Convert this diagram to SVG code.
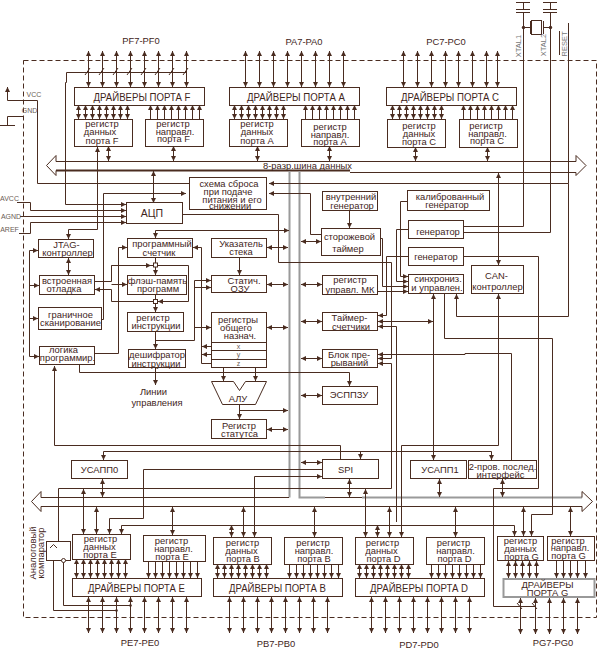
<svg xmlns="http://www.w3.org/2000/svg" xmlns:xlink="http://www.w3.org/1999/xlink" width="599" height="650" viewBox="0 0 599 650">
<style>
svg{background:#fff}
text{font-family:"Liberation Sans",Arial,sans-serif;font-size:9.4px;fill:#3f251b;text-anchor:middle}
.big{font-size:10.5px}
.dr{font-size:10px}
.sm{font-size:7px;fill:#6b5c55}
.g{font-size:7.5px;fill:#777}
.b,.bg{fill:#fff;stroke:#4a2c20;stroke-width:1}
.bg{stroke:#999;stroke-width:2}
.l,.a,.s,.d{fill:none;stroke:#4a2c20;stroke-width:1}
.a{marker-end:url(#h)}
.s{marker-start:url(#h)}
.d{marker-start:url(#h);marker-end:url(#h)}
.gr{fill:none;stroke:#9a9a9a;stroke-width:2}
.fr{fill:none;stroke:#4a2c20;stroke-width:1;stroke-dasharray:5 3}
</style>
<defs>
<marker id="h" markerUnits="userSpaceOnUse" markerWidth="6" markerHeight="6" refX="5" refY="2.5" orient="auto-start-reverse"><path d="M0 0L5 2.5L0 5z" fill="#4a2c20"/></marker>
<g id="t14"><path class="d" d="M0 0V36"/><path class="d" d="M14 0V36"/><path class="d" d="M28 0V36"/><path class="d" d="M42 0V36"/><path class="d" d="M56 0V36"/><path class="d" d="M70 0V36"/><path class="d" d="M84 0V36"/><path class="d" d="M98 0V36"/></g>
<g id="d14"><path class="d" d="M0 0V14"/><path class="d" d="M7 0V14"/><path class="d" d="M14 0V14"/><path class="d" d="M21 0V14"/><path class="d" d="M28 0V14"/><path class="d" d="M35 0V14"/><path class="d" d="M42 0V14"/><path class="d" d="M49 0V14"/></g>
<g id="u14"><path class="s" d="M0 0V14"/><path class="s" d="M7 0V14"/><path class="s" d="M14 0V14"/><path class="s" d="M21 0V14"/><path class="s" d="M28 0V14"/><path class="s" d="M35 0V14"/><path class="s" d="M42 0V14"/><path class="s" d="M49 0V14"/></g>
<g id="n14"><path class="a" d="M0 0V14"/><path class="a" d="M7 0V14"/><path class="a" d="M14 0V14"/><path class="a" d="M21 0V14"/><path class="a" d="M28 0V14"/><path class="a" d="M35 0V14"/><path class="a" d="M42 0V14"/><path class="a" d="M49 0V14"/></g>
<g id="e19"><path class="d" d="M0 0V19"/><path class="d" d="M7 0V19"/><path class="d" d="M14 0V19"/><path class="d" d="M21 0V19"/><path class="d" d="M28 0V19"/><path class="d" d="M35 0V19"/><path class="d" d="M42 0V19"/><path class="d" d="M49 0V19"/></g>
<g id="f17"><path class="a" d="M0 0V17"/><path class="a" d="M7 0V17"/><path class="a" d="M14 0V17"/><path class="a" d="M21 0V17"/><path class="a" d="M28 0V17"/><path class="a" d="M35 0V17"/><path class="a" d="M42 0V17"/><path class="a" d="M49 0V17"/></g>
</defs>
<rect width="599" height="650" fill="#fff"/>
<path class="fr" d="M23.5 60.5H596.5V617.5H23.5Z"/>
<g id="connectors">
<use xlink:href="#t14" href="#t14" x="88.5" y="51"/>
<use xlink:href="#t14" href="#t14" x="245.5" y="51"/>
<path class="d" d="M403.5 51V87"/><path class="d" d="M417.5 51V87"/><path class="d" d="M431.5 51V87"/><path class="d" d="M445.5 51V87"/><path class="d" d="M458.5 51V87"/><path class="d" d="M472.5 51V87"/><path class="d" d="M486.5 51V87"/><path class="d" d="M497.5 51V87"/>
<use xlink:href="#d14" href="#d14" x="78.5" y="105"/>
<use xlink:href="#u14" href="#u14" x="150.5" y="105"/>
<use xlink:href="#d14" href="#d14" x="234.5" y="105"/>
<use xlink:href="#u14" href="#u14" x="305.5" y="105"/>
<use xlink:href="#d14" href="#d14" x="392.5" y="105"/>
<use xlink:href="#u14" href="#u14" x="463.5" y="105"/>
<use xlink:href="#e19" href="#e19" x="76.5" y="559"/>
<use xlink:href="#f17" href="#f17" x="148.5" y="561"/>
<use xlink:href="#d14" href="#d14" x="217.5" y="564"/>
<use xlink:href="#n14" href="#n14" x="289.5" y="564"/>
<use xlink:href="#d14" href="#d14" x="359.5" y="564"/>
<use xlink:href="#n14" href="#n14" x="431.5" y="564"/>
<use xlink:href="#t14" href="#t14" x="88.5" y="597"/>
<use xlink:href="#t14" href="#t14" x="229.5" y="597"/>
<use xlink:href="#t14" href="#t14" x="371.5" y="597"/>
<path class="d" d="M508.5 561V578"/><path class="d" d="M515.5 561V578"/><path class="d" d="M522.5 561V578"/><path class="d" d="M529.5 561V578"/><path class="d" d="M536.5 561V578"/>
<path class="a" d="M556.5 561V578"/><path class="a" d="M563.5 561V578"/><path class="a" d="M570.5 561V578"/><path class="a" d="M577.5 561V578"/><path class="a" d="M585.5 561V578"/>
<path class="d" d="M520.5 598V634"/><path class="d" d="M535.5 598V634"/><path class="d" d="M549.5 598V634"/><path class="d" d="M563.5 598V634"/><path class="d" d="M577.5 598V634"/>
<path class="l" d="M66.5 72.5H186.5"/>
<path class="l" d="M85 75L90 68M99 75L104 68M113 75L118 68M127 75L132 68M141 75L146 68M155 75L160 68M169 75L174 68M183 75L188 68"/>
<path class="a" d="M66.5 72.5V82.5H65.5V204.5H126"/>
<path class="l" d="M56 161.5V155.5L46.5 165.5L56 175.5V170.5"/>
<path class="l" d="M56 161.5H576"/>
<path class="l" d="M56 170.5H350" style="stroke-width:2"/>
<path class="l" d="M350 172.5H576"/>
<path class="l" d="M576 161.5V155.5L586 165.5L576 175.5V172.5"/>
<path class="gr" d="M289.5 171V497.5"/>
<path class="gr" d="M299.5 171V497.5H325"/>
<path class="l" d="M41 497.5V491.5L31.5 501.5L41 511.5V506.5"/>
<path class="l" d="M41 497.5H289"/>
<path class="l" d="M325 497.5H362"/>
<path class="gr" d="M362 497.5H582"/>
<path class="l" d="M41 506.5H582"/>
<path class="l" d="M582 497.5V491.5L592.5 501.5L582 511.5V506.5"/>
<path class="d" d="M108.5 146V161"/><path class="d" d="M173.5 146V161"/><path class="d" d="M257.5 146V161"/><path class="d" d="M329.5 146V161"/><path class="d" d="M415.5 147V161"/><path class="d" d="M487.5 147V161"/>
<path class="d" d="M97.5 147V229.5H68.5V239"/>
<path class="d" d="M153.5 171V203"/>
<path class="l" d="M0 125.5H15M7.5 125.5V116.5H24"/>
<path class="s" d="M7.5 87V100.5H37.5V183.5H189"/>
<path class="a" d="M17 202.5H30.5V210.5H126"/>
<path class="a" d="M20 216.5H126"/>
<path class="a" d="M19 233.5H30.5V222.5H126"/>
<path class="a" d="M101.5 319.5H103.5V193.5H186"/>
<path class="s" d="M269 183.5H568.5V23"/>
<path class="s" d="M269 193.5H310.5V234.5H321"/>
<path class="l" d="M182.5 214.5H278.5V262.5H391.5V358.5"/>
<path class="a" d="M391.5 358.5H378"/>
<path class="l" d="M523.5 3V9M516 2.5H530M516 9.5H530M516 12.5H530M523.5 12V226.5H463.5"/>
<path class="l" d="M550.5 3V9M543 2.5H557M543 9.5H557M543 12.5H557M550.5 12V232.5H463.5"/>
<path class="l" d="M523.5 27.5H530.5M530.5 21V34M543.5 21V34M543.5 27.5H550.5"/>
<circle cx="523.5" cy="27.5" r="1.7" fill="#4a2c20"/><circle cx="550.5" cy="27.5" r="1.7" fill="#4a2c20"/>
<rect x="531.5" y="20.5" width="10" height="14" class="b"/>
<path class="l" d="M559.5 31V55"/>
<path class="a" d="M29.5 250.5H38"/><path class="a" d="M29.5 285.5H39"/><path class="a" d="M29.5 318.5H38"/><path class="a" d="M29.5 250.5V356.5H39"/>
<path class="d" d="M68.5 258V275"/>
<path class="a" d="M94.5 353.5H118.5V247.5H127"/>
<path class="l" d="M94.5 281.5H111.5V265.5H188.5V301.5H111.5V289.5"/>
<path class="a" d="M111.5 289.5H95"/>
<path class="a" d="M111.5 284.5H127"/>
<path class="a" d="M111.5 265.5H151"/>
<path class="a" d="M155.5 257V275"/>
<path class="a" d="M155.5 294V312"/>
<path class="a" d="M170 301.5H158"/>
<path class="a" d="M155.5 331V349"/>
<path class="a" d="M155.5 367V385"/>
<path class="a" d="M155.5 340.5H194.5V280.5H211"/>
<path class="a" d="M194.5 287.5H211"/>
<path class="a" d="M194.5 327.5H211"/>
<path class="d" d="M155.5 238V230.5H289"/>
<path class="s" d="M193 247.5H201.5V363.5H211"/>
<path class="a" d="M211 346.5H202"/>
<path class="a" d="M211 354.5H202"/>
<path class="d" d="M267 247.5H288"/><path class="d" d="M267 284.5H288"/><path class="d" d="M267 327.5H288"/><path class="d" d="M267 429.5H288"/>
<path class="a" d="M239.5 257V275"/>
<path class="a" d="M223.5 367V381"/><path class="a" d="M255.5 367V381"/>
<path class="a" d="M239.5 405V419"/>
<path class="a" d="M239.5 410.5H288"/>
<path class="a" d="M79.5 364V372.5H349.5V386"/>
<path class="s" d="M54.5 366V445.5H340.5V459"/>
<path class="a" d="M491.5 451.5H103.5V460"/>
<path class="a" d="M491.5 451.5V460"/>
<path class="a" d="M360.5 451.5V459"/>
<path class="d" d="M301 241.5H321"/><path class="d" d="M301 284.5H322"/><path class="d" d="M301 321.5H322"/><path class="d" d="M301 358.5H322"/><path class="d" d="M301 395.5H322"/><path class="d" d="M301 462.5H322"/>
<path class="a" d="M349.5 211V228"/>
<path class="a" d="M408 201.5H400.5V276.5H408"/>
<path class="a" d="M408 229.5H396.5V281.5H408"/>
<path class="a" d="M380.5 238.5H382.5V286.5H408"/>
<path class="a" d="M378 291.5H408"/>
<path class="a" d="M408 256.5H386.5V315.5H378"/>
<path class="d" d="M378 321.5H433"/>
<path class="d" d="M433.5 294V460"/>
<path class="s" d="M378 326.5H396.5V522"/>
<path class="s" d="M378 354.5H465V353.5H511.5V460"/>
<path class="s" d="M378 363.5H391.5V488.5H58.5V541"/>
<path class="l" d="M463.5 256.5H538.5V488.5H493.5V606.5H535"/>
<path class="l" d="M517 603L522 609M532 603L537 609"/>
<path class="s" d="M456.5 294V316.5H568.5V183.5"/>
<path class="a" d="M444.5 294V338.5H552.5V514.5H531.5V536"/>
<path class="d" d="M498.5 173V265"/>
<path class="d" d="M498.5 294V445.5H401.5V537"/>
<path class="a" d="M322 469.5H143.5V518.5H109.5V534"/>
<path class="d" d="M322 476.5H254.5V537"/>
<path class="d" d="M349.5 479V497"/><path class="d" d="M102.5 479V497"/><path class="d" d="M439.5 479V497"/><path class="d" d="M502.5 479V497"/>
<path class="d" d="M365.5 489V537"/>
<path class="d" d="M83.5 489V534"/>
<path class="d" d="M96.5 507V534"/>
<path class="d" d="M172.5 507V535"/><path class="d" d="M243.5 507V537"/><path class="d" d="M314.5 507V537"/><path class="d" d="M389.5 507V537"/><path class="d" d="M455.5 507V537"/><path class="d" d="M523.5 507V536"/><path class="d" d="M570.5 507V536"/>
<path class="d" d="M231.5 525V537"/><path class="d" d="M377.5 525V537"/>
<path class="a" d="M121.5 525.5V534"/>
<path class="a" d="M121.5 525.5H514.5V536"/>
<path class="l" d="M53.5 560V610.5H116.5M63.5 562V605.5H130.5"/>
<circle cx="116.5" cy="610.5" r="1.3" fill="#4a2c20"/><circle cx="130.5" cy="605.5" r="1.3" fill="#4a2c20"/>
</g>
<g id="bus-label"><text x="307.5" y="169">8-разр.шина данных</text></g>
<g id="frame-labels">
<text x="141" y="44">PF7-PF0</text><text x="304" y="45">PA7-PA0</text><text x="446" y="45">PC7-PC0</text>
<text x="140" y="646">PE7-PE0</text><text x="276" y="647">PB7-PB0</text><text x="419" y="648">PD7-PD0</text><text x="553" y="646">PG7-PG0</text>
<text class="sm" x="34" y="96.5">VCC</text><text class="sm" x="29.5" y="112.5">GND</text>
<text class="sm" x="9.5" y="201">AVCC</text><text class="sm" x="11" y="219">AGND</text><text class="sm" x="9.5" y="232">AREF</text>
<text class="g" transform="translate(520.5 46) rotate(-90)">XTAL1</text>
<text class="g" transform="translate(546 45) rotate(-90)">XTAL2</text>
<text class="g" transform="translate(567 44) rotate(-90)">RESET</text>
<text transform="translate(36 553) rotate(-90)">Аналоговый</text>
<text transform="translate(44 553) rotate(-90)">компаратор</text>
<text x="153.5" y="395">Линии</text><text x="157" y="406">управления</text>
</g>
<g id="port-f-drivers"><rect class="b" x="74.5" y="87.5" width="130" height="18"/><text class="dr" x="142" y="100.5" textLength="97" lengthAdjust="spacingAndGlyphs">ДРАЙВЕРЫ ПОРТА F</text></g>
<g id="port-f-data"><rect class="b" x="74.5" y="119.5" width="58" height="27"/><text x="102" y="127">регистр</text><text x="100" y="135">данных</text><text x="102" y="143.5">порта F</text></g>
<g id="port-f-dir"><rect class="b" x="145.5" y="119.5" width="58" height="27"/><text x="173" y="127">регистр</text><text x="175" y="134.5">направл.</text><text x="173.5" y="142">порта F</text></g>
<g id="port-a-drivers"><rect class="b" x="229.5" y="87.5" width="130" height="18"/><text class="dr" x="296" y="100.5" textLength="98" lengthAdjust="spacingAndGlyphs">ДРАЙВЕРЫ ПОРТА А</text></g>
<g id="port-a-data"><rect class="b" x="229.5" y="119.5" width="58" height="27"/><text x="257" y="127">регистр</text><text x="257" y="135">данных</text><text x="257" y="143.5">порта А</text></g>
<g id="port-a-dir"><rect class="b" x="301.5" y="119.5" width="58" height="27"/><text x="330" y="129.5">регистр</text><text x="330" y="137.5">направл.</text><text x="330" y="145">порта А</text></g>
<g id="port-c-drivers"><rect class="b" x="386.5" y="87.5" width="130" height="18"/><text class="dr" x="450" y="100.5" textLength="98" lengthAdjust="spacingAndGlyphs">ДРАЙВЕРЫ ПОРТА С</text></g>
<g id="port-c-data"><rect class="b" x="387.5" y="119.5" width="58" height="28"/><text x="419" y="128.5">регистр</text><text x="419" y="136.5">данных</text><text x="419" y="144.5">порта С</text></g>
<g id="port-c-dir"><rect class="b" x="459.5" y="119.5" width="58" height="28"/><text x="486" y="128.5">регистр</text><text x="487.5" y="136.5">направл.</text><text x="487" y="143.5">порта С</text></g>
<g id="reset-circuit"><rect class="b" x="189.5" y="177.5" width="77" height="32"/><text x="229" y="187">схема сброса</text><text x="228" y="195">при подаче</text><text x="232" y="202.5">питания и его</text><text x="230" y="209">снижении</text></g>
<g id="adc"><rect class="b" x="126.5" y="202.5" width="56" height="21"/><text class="big" x="152" y="216.5">АЦП</text></g>
<g id="int-osc"><rect class="b" x="322.5" y="191.5" width="55" height="19"/><text x="351" y="200">внутренний</text><text x="352" y="208.5">генератор</text></g>
<g id="cal-osc"><rect class="b" x="407.5" y="190.5" width="82" height="20"/><text x="450" y="199.5">калиброванный</text><text x="447" y="207.5">генератор</text></g>
<g id="watchdog"><rect class="b" x="321.5" y="228.5" width="59" height="27"/><text x="349.5" y="240">сторожевой</text><text x="348" y="251.5">таймер</text></g>
<g id="osc1"><rect class="b" x="408.5" y="220.5" width="55" height="18"/><text x="438" y="235">генератор</text></g>
<g id="osc2"><rect class="b" x="408.5" y="247.5" width="55" height="18"/><text x="436" y="259.5">генератор</text></g>
<g id="sync"><rect class="b" x="408.5" y="274.5" width="55" height="19"/><text x="438" y="281.5">синхрониз.</text><text x="437" y="290.5">и управлен.</text></g>
<g id="can"><rect class="b" x="471.5" y="265.5" width="52" height="28"/><text x="496.5" y="279">CAN-</text><text x="497.5" y="289.5">контроллер</text></g>
<g id="mcu-ctrl"><rect class="b" x="322.5" y="275.5" width="55" height="19"/><text x="350" y="283">регистр</text><text x="350" y="292.5">управл. МК</text></g>
<g id="timers"><rect class="b" x="322.5" y="312.5" width="55" height="18"/><text x="349.5" y="321">Таймер-</text><text x="351" y="329.5">счетчики</text></g>
<g id="interrupts"><rect class="b" x="322.5" y="349.5" width="55" height="18"/><text x="349" y="357.5">Блок пре-</text><text x="349.5" y="366">рываний</text></g>
<g id="eeprom"><rect class="b" x="322.5" y="386.5" width="55" height="18"/><text x="349" y="398">ЭСППЗУ</text></g>
<g id="jtag"><rect class="b" x="38.5" y="239.5" width="55" height="18"/><text x="66.5" y="248">JTAG-</text><text x="67.5" y="256">контроллер</text></g>
<g id="debug"><rect class="b" x="39.5" y="275.5" width="55" height="19"/><text x="67" y="284">встроенная</text><text x="64" y="292">отладка</text></g>
<g id="boundary"><rect class="b" x="38.5" y="307.5" width="63" height="22"/><text x="70.5" y="318">граничное</text><text x="70.5" y="326">сканирование</text></g>
<g id="prog-logic"><rect class="b" x="39.5" y="346.5" width="55" height="18"/><text x="63.5" y="352.5">логика</text><text x="67.5" y="361">программир.</text></g>
<g id="pc"><rect class="b" x="127.5" y="238.5" width="65" height="19"/><text x="162" y="247">программный</text><text x="159" y="255.5">счетчик</text></g>
<g id="flash"><rect class="b" x="127.5" y="275.5" width="59" height="19"/><text x="157.5" y="284">флэш-память</text><text x="158" y="292">программ</text></g>
<g id="sq"><rect class="b" x="153.5" y="263" width="4" height="4"/><rect class="b" x="153.5" y="299.5" width="4" height="4"/></g>
<g id="instr-reg"><rect class="b" x="127.5" y="312.5" width="56" height="19"/><text x="153" y="320.5">регистр</text><text x="156" y="328.5">инструкции</text></g>
<g id="decoder"><rect class="b" x="128.5" y="349.5" width="57" height="18"/><text x="157" y="358">дешифратор</text><text x="156" y="366.5">инструкции</text></g>
<g id="sp"><rect class="b" x="211.5" y="238.5" width="55" height="19"/><text x="241" y="247">Указатель</text><text x="241" y="255">стека</text></g>
<g id="sram"><rect class="b" x="211.5" y="275.5" width="55" height="17"/><text x="244" y="283.5">Статич.</text><text x="240" y="291.5">ОЗУ</text></g>
<g id="gpr"><rect class="b" x="211.5" y="312.5" width="55" height="55"/><path class="l" d="M211.5 342.5H266.5M211.5 350.5H266.5M211.5 359.5H266.5"/><text x="238" y="322.5">регистры</text><text x="236" y="331">общего</text><text x="240" y="339">назнач.</text><text class="sm" x="238.5" y="348.5">x</text><text class="sm" x="238.5" y="356.5">y</text><text class="sm" x="238.5" y="366">z</text></g>
<g id="alu"><path class="b" d="M211.5 381.5H233.5L239.5 390.5L245.5 381.5H266.5L255.5 404.5H222.5Z"/><text x="238" y="401.5">АЛУ</text></g>
<g id="status"><rect class="b" x="211.5" y="419.5" width="55" height="19"/><text x="239" y="428.5">Регистр</text><text x="239.5" y="436.5">статутса</text></g>
<g id="spi"><rect class="b" x="322.5" y="459.5" width="56" height="19"/><text x="345.5" y="473">SPI</text></g>
<g id="usart0"><rect class="b" x="71.5" y="460.5" width="56" height="18"/><text x="99.5" y="473">УСАПП0</text></g>
<g id="usart1"><rect class="b" x="410.5" y="460.5" width="56" height="18"/><text x="440" y="473">УСАПП1</text></g>
<g id="twi"><rect class="b" x="468.5" y="460.5" width="68" height="18"/><text x="502.5" y="469.5">2-пров. послед.</text><text x="500.5" y="477.5">интерфейс</text></g>
<g id="comparator"><rect class="b" x="46.5" y="541.5" width="24" height="19"/><path class="l" d="M50 548L53.5 544.5L57 548"/><circle class="b" cx="63.5" cy="560.5" r="2"/></g>
<g id="port-e-data"><rect class="b" x="72.5" y="534.5" width="58" height="25"/><text x="100.5" y="542">регистр</text><text x="99.5" y="549.5">данных</text><text x="100" y="557.5">порта Е</text></g>
<g id="port-e-dir"><rect class="b" x="143.5" y="535.5" width="62" height="26"/><text x="171.5" y="543.5">регистр</text><text x="173.5" y="551.5">направл.</text><text x="172" y="559.5">порта Е</text></g>
<g id="port-e-drivers"><rect class="b" x="72.5" y="578.5" width="129" height="18"/><text class="dr" x="136.5" y="591.5" textLength="97" lengthAdjust="spacingAndGlyphs">ДРАЙВЕРЫ ПОРТА Е</text></g>
<g id="port-b-data"><rect class="b" x="213.5" y="537.5" width="58" height="27"/><text x="242.5" y="545.5">регистр</text><text x="241.5" y="553.5">данных</text><text x="243" y="561.5">порта В</text></g>
<g id="port-b-dir"><rect class="b" x="284.5" y="537.5" width="58" height="27"/><text x="313" y="545.5">регистр</text><text x="314" y="553.5">направл.</text><text x="314" y="561.5">порта В</text></g>
<g id="port-b-drivers"><rect class="b" x="213.5" y="578.5" width="129" height="18"/><text class="dr" x="277.5" y="592" textLength="97" lengthAdjust="spacingAndGlyphs">ДРАЙВЕРЫ ПОРТА В</text></g>
<g id="port-d-data"><rect class="b" x="355.5" y="537.5" width="58" height="27"/><text x="382.5" y="545.5">регистр</text><text x="381.5" y="553.5">данных</text><text x="383.5" y="561.5">порта D</text></g>
<g id="port-d-dir"><rect class="b" x="426.5" y="537.5" width="58" height="27"/><text x="453.5" y="545.5">регистр</text><text x="455.5" y="553.5">направл.</text><text x="454.5" y="561.5">порта D</text></g>
<g id="port-d-drivers"><rect class="b" x="355.5" y="578.5" width="129" height="18"/><text class="dr" x="419" y="592" textLength="98" lengthAdjust="spacingAndGlyphs">ДРАЙВЕРЫ ПОРТА D</text></g>
<g id="port-g-data"><rect class="b" x="497.5" y="536.5" width="46" height="24"/><text x="520.5" y="543.5">регистр</text><text x="520.5" y="551.5">данных</text><text x="521.5" y="559.5">порта G</text></g>
<g id="port-g-dir"><rect class="b" x="547.5" y="536.5" width="47" height="24"/><text x="568" y="543.5">регистр</text><text x="570" y="551">направл.</text><text x="568.5" y="558.5">порта G</text></g>
<g id="port-g-drivers"><rect class="bg" x="503.5" y="579" width="91" height="18"/><text x="547.5" y="588">ДРАЙВЕРЫ</text><text x="547.5" y="596">ПОРТА G</text></g>
</svg>
